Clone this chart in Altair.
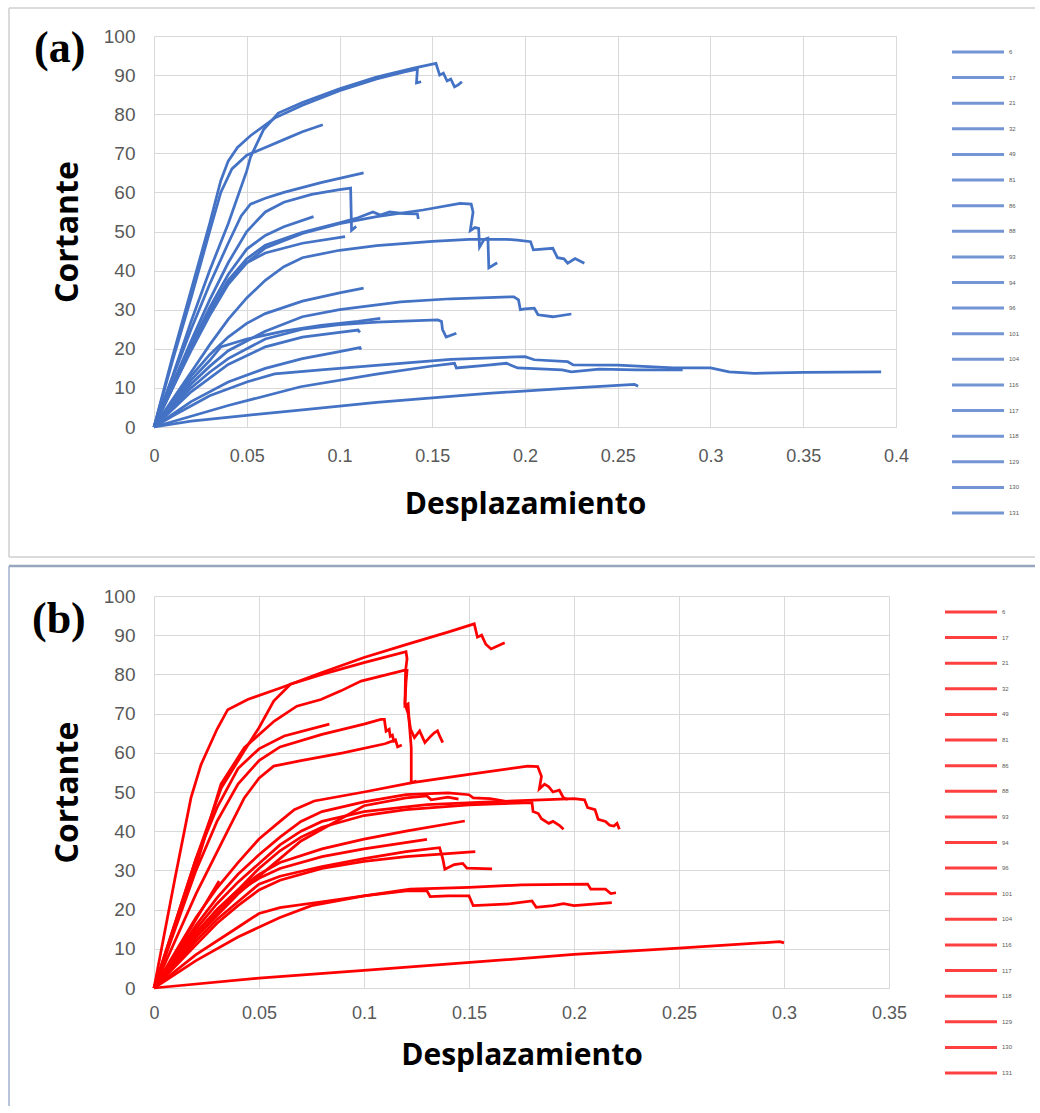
import altair as alt
import pandas as pd

labels = ["6", "17", "21", "32", "49", "81", "86", "88", "93", "94",
          "96", "101", "104", "116", "117", "118", "129", "130", "131"]

x_ticks_a = [0, 0.05, 0.1, 0.15, 0.2, 0.25, 0.3, 0.35, 0.4]
x_ticks_b = [0, 0.05, 0.1, 0.15, 0.2, 0.25, 0.3, 0.35]
y_ticks = [0, 10, 20, 30, 40, 50, 60, 70, 80, 90, 100]

# ---- panel (a): [Desplazamiento, Cortante] ----
a01 = [[0,0],[0.01,13],[0.02,27],[0.03,40],[0.04,52],[0.05,65.5],[0.052,69],[0.059,76],[0.067,80.3],[0.08,83],[0.1,86.5],[0.12,89.5],[0.14,91.8],[0.152,93],[0.154,90],[0.156,90.5],[0.158,88.5],[0.16,89],[0.162,87],[0.164,87.5],[0.166,88.3]]
a02 = [[0,0],[0.01,18],[0.02,35],[0.03,52],[0.036,63],[0.04,68],[0.045,71.5],[0.052,74.5],[0.065,79],[0.08,82.3],[0.1,86],[0.12,89],[0.135,90.8],[0.142,91.5],[0.1415,88],[0.144,88.3]]
a03 = [[0,0],[0.01,17],[0.02,33],[0.03,50],[0.036,60],[0.042,66],[0.05,69.5],[0.06,71.5],[0.07,73.5],[0.08,75.5],[0.091,77.3]]
a04 = [[0,0],[0.01,12.5],[0.02,25],[0.03,36.5],[0.04,47],[0.047,54],[0.052,57],[0.06,58.5],[0.07,60],[0.09,62.5],[0.113,65]]
a05 = [[0,0],[0.01,11],[0.02,22],[0.03,32.5],[0.04,42],[0.05,50],[0.06,55],[0.07,57.5],[0.085,59.5],[0.1,60.7],[0.106,61.1],[0.1065,50.3],[0.109,51.3]]
a06 = [[0,0],[0.01,11],[0.02,21],[0.03,30.5],[0.04,39],[0.05,45.5],[0.06,49],[0.07,51.2],[0.086,53.8]]
a07 = [[0,0],[0.01,10],[0.02,20],[0.03,29],[0.04,37],[0.05,42],[0.06,44.5],[0.08,47],[0.103,48.7]]
a08 = [[0,0],[0.01,10],[0.02,20],[0.03,29.5],[0.04,37.5],[0.05,43],[0.06,46.5],[0.08,49.8],[0.1,52.2],[0.11,53.5],[0.118,55],[0.122,54.2],[0.127,55],[0.135,54.6],[0.142,54.5],[0.1425,53.2]]
a09 = [[0,0],[0.01,10],[0.02,19.5],[0.03,28.5],[0.04,36.5],[0.05,42],[0.06,45.8],[0.08,49.5],[0.1,52],[0.12,53.8],[0.145,55.5],[0.165,57.2],[0.171,57],[0.172,55],[0.1705,50.2],[0.173,51],[0.175,50.8],[0.1755,46],[0.178,48],[0.18,48.3],[0.1805,40.7],[0.185,42]]
a10 = [[0,0],[0.01,7],[0.02,14],[0.03,21],[0.04,27.5],[0.05,33],[0.06,37.5],[0.07,41],[0.08,43.3],[0.1,45.2],[0.12,46.4],[0.15,47.5],[0.17,48],[0.19,48],[0.196,47.8],[0.203,47.4],[0.2045,45.3],[0.215,45.7],[0.2175,43.3],[0.221,43],[0.223,41.9],[0.227,43.1],[0.232,41.9]]
a11 = [[0,0],[0.01,6.5],[0.02,13],[0.03,18.5],[0.04,23],[0.05,26.5],[0.06,29],[0.08,32.2],[0.1,34.3],[0.113,35.5]]
a12 = [[0,0],[0.01,5.5],[0.02,11],[0.03,15.5],[0.04,19.5],[0.06,24.5],[0.08,28.2],[0.1,30],[0.133,32],[0.16,32.8],[0.194,33.3],[0.1965,32.5],[0.1975,30],[0.2,30.2],[0.205,30.4],[0.207,28.7],[0.215,28.2],[0.225,28.9]]
a13 = [[0,0],[0.01,5],[0.02,10],[0.03,14],[0.04,17.5],[0.06,22.5],[0.08,25],[0.1,26.2],[0.12,26.8],[0.153,27.4],[0.155,27],[0.1555,25],[0.1575,23],[0.163,24]]
a14 = [[0,0],[0.01,6],[0.02,12],[0.03,17],[0.036,20.5],[0.05,22.5],[0.07,24.5],[0.09,26],[0.11,27],[0.122,27.8]]
a15 = [[0,0],[0.01,4.5],[0.02,9],[0.04,16],[0.06,20.5],[0.08,23],[0.1,24.2],[0.11,24.8],[0.111,24.2]]
a16 = [[0,0],[0.02,6.5],[0.04,11.5],[0.06,15],[0.08,17.5],[0.1,19.3],[0.111,20.3],[0.1115,19.8]]
a17 = [[0,0],[0.01,2.8],[0.03,8],[0.05,11.5],[0.065,13.6],[0.09,14.6],[0.133,16.3],[0.16,17.3],[0.2,18],[0.205,17.2],[0.223,16.7],[0.226,15.9],[0.25,15.8],[0.28,15.1],[0.3,15.1],[0.31,14.1],[0.3236,13.7],[0.35,14],[0.392,14.1]]
a18 = [[0,0],[0.04,5.5],[0.079,10.3],[0.12,13.5],[0.15,15.6],[0.162,16.3],[0.163,15.1],[0.18,15.8],[0.19,16.3],[0.196,15.1],[0.22,14.6],[0.225,14.1],[0.24,14.8],[0.26,14.6],[0.285,14.6]]
a19 = [[0,0],[0.02,1.5],[0.05,3],[0.08,4.4],[0.12,6.3],[0.18,8.6],[0.22,9.8],[0.259,10.9],[0.261,10.4]]

# ---- panel (b) ----
b01 = [[0,0],[0.01,28],[0.0176,48.5],[0.0224,57],[0.03,66],[0.0351,71],[0.0446,73.6],[0.0605,76.6],[0.08,80.5],[0.1,84.3],[0.12,87.6],[0.14,90.8],[0.1525,92.9],[0.154,89.5],[0.156,90],[0.158,87.7],[0.1605,86.5],[0.167,88.1]]
b02 = [[0,0],[0.01,16.5],[0.02,33],[0.032,51],[0.043,60.5],[0.05,66.4],[0.057,73.2],[0.065,77.5],[0.08,80],[0.1,83],[0.12,85.8],[0.1205,84],[0.1198,81],[0.1195,72],[0.121,72.5],[0.1215,68],[0.1225,61.3],[0.1225,52.4],[0.125,52.8]]
b03 = [[0,0],[0.01,15.5],[0.02,31],[0.0319,52],[0.043,61.3],[0.0573,68.1],[0.068,71.9],[0.0795,73.6],[0.089,75.8],[0.0986,78.3],[0.119,81],[0.1205,81],[0.12,78],[0.1195,72.5],[0.121,70],[0.1222,66],[0.124,63.9],[0.1265,65.6],[0.129,62.6],[0.1319,64.3],[0.1335,65.1],[0.135,65.6],[0.136,64.3],[0.1375,62.6]]
b04 = [[0,0],[0.01,16.5],[0.02,33],[0.03,46],[0.04,56],[0.05,61],[0.062,64.3],[0.0835,67.3]]
b05 = [[0,0],[0.01,15],[0.02,30],[0.03,42.5],[0.04,52],[0.05,58],[0.06,61.5],[0.08,64.7],[0.1,67.3],[0.108,68.5],[0.1097,68.5],[0.1105,65.5],[0.112,66],[0.1125,64.2],[0.1135,64.5],[0.1144,62.6]]
b06 = [[0,0],[0.01,12],[0.02,24],[0.035,40],[0.043,48.5],[0.05,53.5],[0.057,56.6],[0.07,58],[0.09,60],[0.11,62.3],[0.115,63.3],[0.116,61.5],[0.118,62]]
b07 = [[0,0],[0.01,9],[0.02,18],[0.03,25.5],[0.04,32],[0.05,38],[0.06,42.5],[0.0668,45.5],[0.0763,47.7],[0.1,50],[0.123,52.4],[0.15,54.5],[0.178,56.6],[0.1827,56.5],[0.1845,54],[0.1835,50.8],[0.186,52],[0.188,51.3],[0.19,50],[0.193,50.5],[0.195,48.5],[0.197,48.1]]
b08 = [[0,0],[0.01,7],[0.02,14],[0.03,20],[0.04,25],[0.05,30.5],[0.06,35],[0.07,38.5],[0.08,41],[0.1,44],[0.12,45.5],[0.15,46.7],[0.18,47.3],[0.1805,45],[0.183,44.5],[0.1845,43.2],[0.188,42],[0.19,42.5],[0.193,41.5],[0.195,40.5]]
b09 = [[0,0],[0.01,7.5],[0.02,15],[0.03,21.5],[0.04,27],[0.06,36.5],[0.07,40],[0.08,42.5],[0.1,45],[0.13,46.8],[0.16,47.5],[0.2,48.3],[0.205,48],[0.2065,46],[0.21,45.5],[0.2115,43],[0.215,42.5],[0.217,41.5],[0.219,41.3],[0.2205,42],[0.2216,40.5]]
b10 = [[0,0],[0.01,7],[0.02,14],[0.03,20],[0.04,25],[0.05,29],[0.06,32],[0.08,35.5],[0.1,38],[0.12,40],[0.148,42.6]]
b11 = [[0,0],[0.01,6.5],[0.02,13],[0.03,19],[0.04,24.5],[0.05,28],[0.06,30.5],[0.08,33.5],[0.1,35.5],[0.13,37.9]]
b12 = [[0,0],[0.01,6],[0.02,12],[0.03,17.5],[0.04,22],[0.05,26.5],[0.06,28.5],[0.08,31],[0.1,33],[0.12,34.8],[0.136,35.8],[0.1375,33],[0.1385,30.3],[0.143,31.5],[0.147,31.8],[0.149,30.6],[0.161,30.4]]
b13 = [[0,0],[0.01,5.5],[0.02,11],[0.03,16.5],[0.04,21],[0.05,25],[0.06,27.5],[0.08,30.5],[0.1,32.3],[0.12,33.5],[0.153,34.8]]
b14 = [[0,0],[0.02,8.5],[0.04,15.5],[0.05,19],[0.06,20.5],[0.08,22],[0.1,23.5],[0.12,24.8],[0.13,24.8],[0.1315,23.3],[0.14,23.5],[0.15,23.5],[0.152,21],[0.17,21.5],[0.18,22.2],[0.182,20.6],[0.19,21],[0.195,21.5],[0.2,21],[0.218,21.8]]
b15 = [[0,0],[0.02,7],[0.04,13],[0.06,18],[0.075,21],[0.1,23.5],[0.122,25.2],[0.15,25.7],[0.175,26.3],[0.2065,26.5],[0.208,25.2],[0.215,25.2],[0.2175,24.1],[0.22,24.3]]
b16 = [[0,0],[0.05,2.5],[0.1,4.5],[0.16,6.9],[0.2,8.6],[0.25,10.2],[0.298,11.8],[0.3,11.5]]
b17 = [[0,0],[0.01,8.5],[0.02,17.5],[0.031,27.3]]
b18 = [[0,0],[0.01,8],[0.02,16],[0.03,23],[0.04,29],[0.05,34],[0.06,38.5],[0.07,42.5],[0.08,45],[0.1,47.5],[0.12,49.3],[0.14,49.8],[0.15,49.3],[0.152,48.5],[0.16,48.3],[0.167,47.7]]
b19 = [[0,0],[0.01,6.5],[0.02,13],[0.04,24],[0.06,33],[0.07,37.5],[0.08,40.5],[0.1,46.5],[0.12,48.5],[0.13,49],[0.132,48],[0.14,48.7],[0.145,48.2]]

curves_a = [a01, a02, a03, a04, a05, a06, a07, a08, a09, a10,
            a11, a12, a13, a14, a15, a16, a17, a18, a19]
curves_b = [b01, b02, b03, b04, b05, b06, b07, b08, b09, b10,
            b11, b12, b13, b14, b15, b16, b17, b18, b19]

BLUE = "#4472C4"
RED = "#FF0000"
GRID = "#D9D9D9"
LABEL = "#595959"
TICKFONT = "Liberation Sans"
TITLEFONT = "Open Sans"


def to_frame(curves):
    rows = []
    for lab, pts in zip(labels, curves):
        for i, (xv, yv) in enumerate(pts):
            rows.append({"s": lab, "i": i, "x": xv, "y": yv})
    return pd.DataFrame(rows)


def edge(x1, x2, y1, y2, color, sw):
    one = pd.DataFrame({"k": [0]})
    enc = {"x": alt.value(x1), "y": alt.value(y1)}
    if x2 is not None:
        enc["x2"] = alt.value(x2)
    if y2 is not None:
        enc["y2"] = alt.value(y2)
    return alt.Chart(one).mark_rule(color=color, strokeWidth=sw).encode(**enc)


def panel(curves, color, xmax, xticks, width, height, tag, edges, tag_pos,
          xtitle_y, xlabel_pad):
    df = to_frame(curves)
    one = pd.DataFrame({"k": [0]})
    lines = alt.Chart(df).mark_line(strokeWidth=2.75, color=color).encode(
        x=alt.X("x:Q",
                scale=alt.Scale(domain=[0, xmax], nice=False, zero=True),
                axis=alt.Axis(values=xticks, format="~g", title="Desplazamiento",
                              titleFont=TITLEFONT, titleFontWeight="bold",
                              titleFontSize=30, titleColor="black",
                              titleY=xtitle_y, titleBaseline="alphabetic",
                              labelFont=TICKFONT, labelFontSize=18,
                              labelColor=LABEL, labelPadding=xlabel_pad,
                              labelOverlap=False, labelFlush=False,
                              grid=True, gridColor=GRID, domain=True,
                              domainColor=GRID, ticks=False)),
        y=alt.Y("y:Q",
                scale=alt.Scale(domain=[0, 100], nice=False),
                axis=alt.Axis(values=y_ticks, title="Cortante",
                              titleFont=TITLEFONT, titleFontWeight="bold",
                              titleFontSize=32, titleColor="black",
                              titleAngle=-90, titleX=-87, titleY=height / 2,
                              titleAlign="center", titleBaseline="middle",
                              labelFont=TICKFONT, labelFontSize=19,
                              labelColor=LABEL, labelPadding=19,
                              grid=True, gridColor=GRID, domain=False,
                              ticks=False)),
        detail="s:N",
        order="i:Q",
    )
    tag_text = alt.Chart(one).mark_text(
        text=tag, font="Liberation Serif", fontWeight="bold", fontSize=44,
        align="left", baseline="alphabetic", color="black").encode(
        x=alt.value(tag_pos[0]), y=alt.value(tag_pos[1]))
    leg_df = pd.DataFrame({"s": labels})
    leg_scale = alt.Scale(type="point", domain=labels, range=[16, 477], padding=0)
    leg_rule = alt.Chart(leg_df).mark_rule(color=color, strokeWidth=3,
                                           opacity=0.75).encode(
        y=alt.Y("s:N", scale=leg_scale, axis=None),
        x=alt.value(width + 56), x2=alt.value(width + 108))
    leg_text = alt.Chart(leg_df).mark_text(
        align="left", baseline="middle", fontSize=6, color=LABEL,
        font=TICKFONT).encode(
        y=alt.Y("s:N", scale=leg_scale, axis=None),
        x=alt.value(width + 113), text="s:N")
    return alt.layer(*edges, lines, tag_text, leg_rule, leg_text).resolve_scale(
        y="independent").properties(width=width, height=height)


# frame edges of panel (a): top, left, bottom (right edge is outside the picture)
edges_a = [
    edge(-145, 881, -28, None, "#CFCFCF", 1.5),
    edge(-145, None, -28, 521, "#CFCFCF", 1.5),
    edge(-145, 881, 521, None, "#CFCFCF", 1.5),
]
# frame edges of panel (b): top and left (bottom is outside the picture)
edges_b = [
    edge(-145, 881, -30, None, "#97A6BE", 2.5),
    edge(-145, None, -30, 510, "#9FB0CC", 1.5),
]

pa = panel(curves_a, BLUE, 0.4, x_ticks_a, 742, 391, "(a)", edges_a,
           (-120, 26), 86, 20)
pb = panel(curves_b, RED, 0.35, x_ticks_b, 735, 392, "(b)", edges_b,
           (-122, 37), 76, 16)

chart = alt.vconcat(pa, pb, spacing=6).properties(
    padding={"left": 7, "top": 7, "right": 0, "bottom": 0},
    background="white",
).configure_view(stroke=None)

chart.save("out.html", embed_options={"renderer": "svg", "actions": False})
